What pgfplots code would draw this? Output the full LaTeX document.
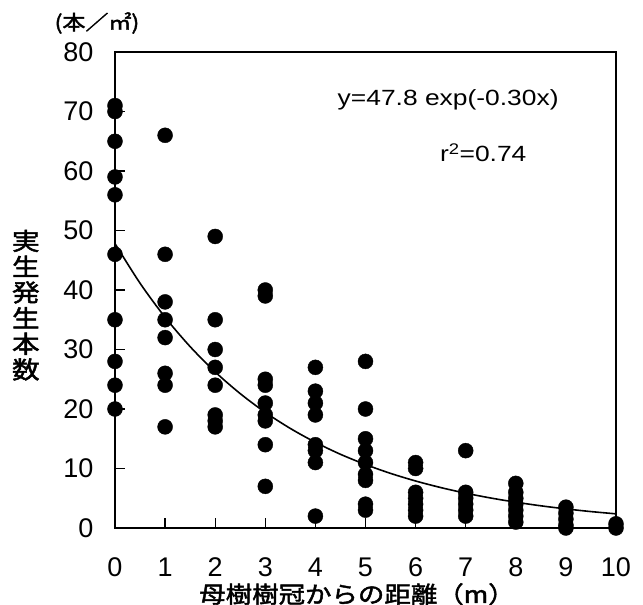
\documentclass[border=0pt]{standalone}
\usepackage{pgfplots}
\pgfplotsset{compat=1.18}
\usepackage{fontspec}
\setmainfont{Liberation Sans}
\newfontfamily\wide{Liberation Sans}[FakeStretch=1.2]
\newfontfamily\jp{Noto Sans CJK JP}[AutoFakeBold=2, FakeStretch=1.15]
\begin{document}
\begin{tikzpicture}
\useasboundingbox (-115pt,-77pt) rectangle (528pt,528pt);
\begin{axis}[
  at={(0pt,0pt)}, anchor=south west,
  scale only axis, width=501pt, height=476pt,
  xmin=0, xmax=10, ymin=0, ymax=80,
  xtick={0,1,...,10}, ytick={0,10,...,80},
  tick align=inside, major tick length=10pt,
  xtick pos=bottom, ytick pos=left,
  axis line style={line width=1.8pt},
  tick style={line width=1.2pt, black},
  clip=false,
  /pgf/number format/assume math mode=true,
  ticklabel style={font=\fontsize{27}{30}\selectfont},
  yticklabel style={xshift=-18pt},
  xticklabel style={yshift=-26pt},
]
\addplot[only marks, mark=*, mark size=7.5pt, black] coordinates {
(0,71) (0,70) (0,65) (0,59) (0,56) (0,46) (0,35) (0,28) (0,24) (0,20)
(1,66) (1,46) (1,38) (1,35) (1,32) (1,26) (1,24) (1,17)
(2,49) (2,35) (2,30) (2,27) (2,24) (2,19) (2,18) (2,17)
(3,40) (3,39) (3,25) (3,24) (3,21) (3,19) (3,18) (3,14) (3,7)
(4,27) (4,23) (4,21) (4,19) (4,14) (4,13) (4,11) (4,2)
(5,28) (5,20) (5,15) (5,13) (5,11) (5,9) (5,8) (5,4) (5,3)
(6,11) (6,10) (6,6) (6,5) (6,4) (6,3) (6,2)
(7,13) (7,6) (7,5) (7,4) (7,3) (7,2)
(8,7.5) (8,6) (8,5) (8,4) (8,3) (8,2) (8,1)
(9,3.5) (9,2.5) (9,1.5) (9,0.5) (9,0)
(10,0.7) (10,0)
};
\addplot[black, line width=1.6pt, smooth] coordinates {
(0,47.80) (0.5,41.14) (1,35.41) (1.5,30.48) (2,26.23) (2.5,22.58) (3,19.43)
(3.5,16.73) (4,14.40) (4.5,12.39) (5,10.67) (5.5,9.18) (6,7.90) (6.5,6.80)
(7,5.85) (7.5,5.04) (8,4.34) (8.5,3.73) (9,3.21) (9.5,2.76) (10,2.38)
};
\node[font=\wide\fontsize{22}{25}\selectfont] at (rel axis cs:0.665,0.899) {y=47.8 exp(-0.30x)};
\node[font=\wide\fontsize{22}{25}\selectfont] at (rel axis cs:0.735,0.788) {r\textsuperscript{2}=0.74};
\node[font=\jp\bfseries\fontsize{20}{24}\selectfont] at (rel axis cs:-0.036,1.061) {(本／㎡)};
\node[font=\jp\bfseries\fontsize{24}{25.7}\selectfont, align=center] at (rel axis cs:-0.178,0.468) {実\\生\\発\\生\\本\\数};
\node[font=\jp\bfseries\fontsize{23}{26}\selectfont] at (rel axis cs:0.483,-0.139) {母樹樹冠からの距離（m）};
\end{axis}
\end{tikzpicture}
\end{document}
